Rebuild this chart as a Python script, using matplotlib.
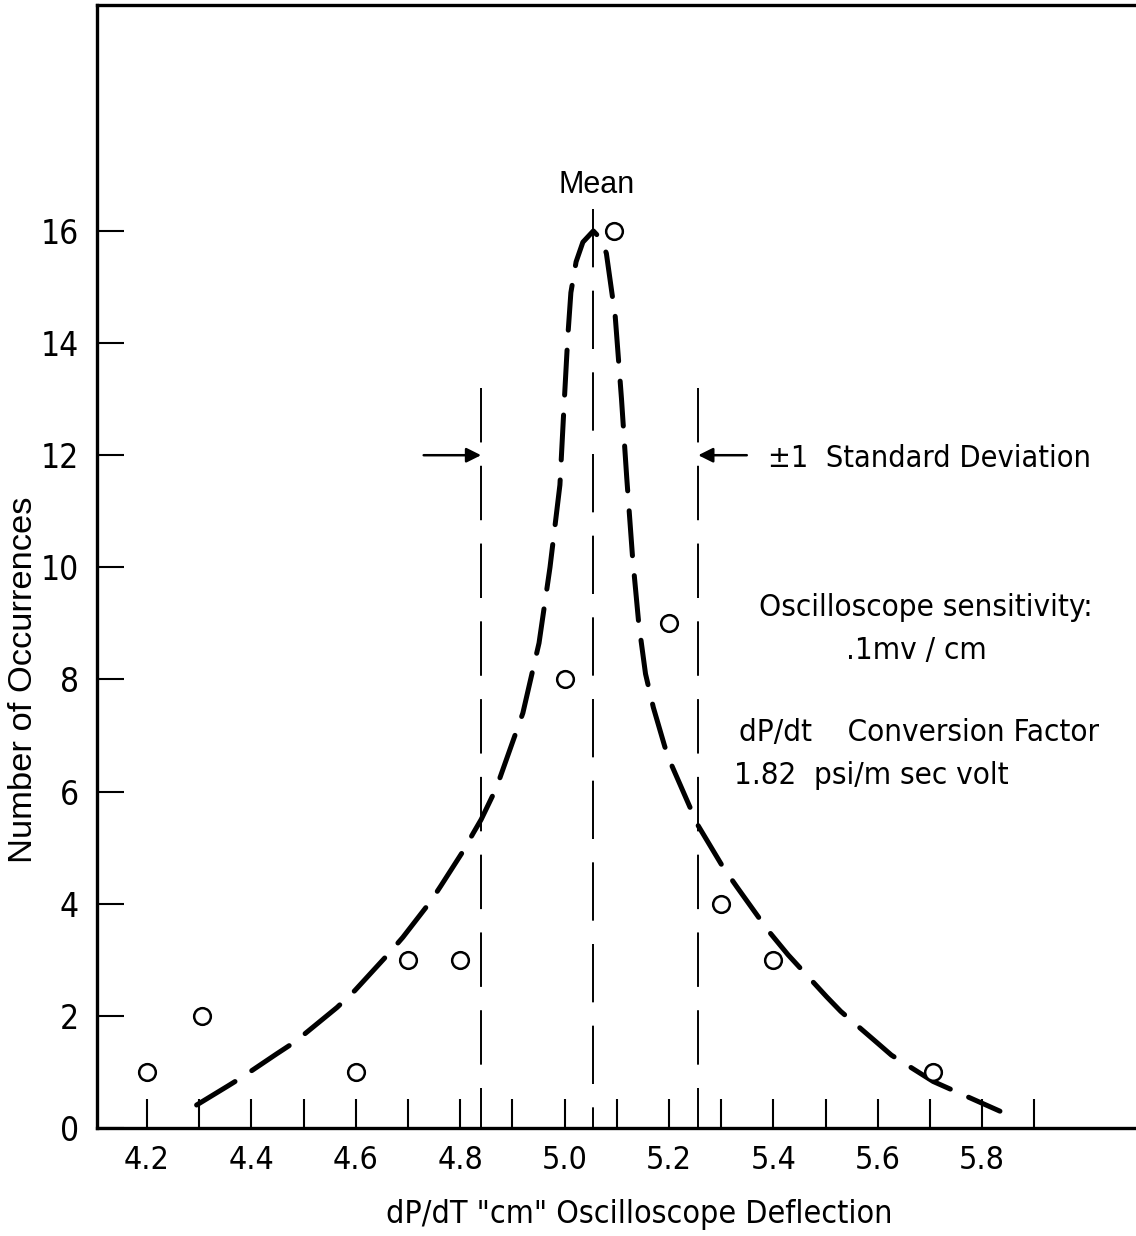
import matplotlib.pyplot as plt
from matplotlib.ticker import FixedLocator

# circles
pt_x = [4.20, 4.305, 4.60, 4.70, 4.80, 5.00, 5.095, 5.20, 5.30, 5.40, 5.705]
pt_y = [1, 2, 1, 3, 3, 8, 16, 9, 4, 3, 1]

# hand drawn fitted curve, traced point by point
curve_x = [4.295, 4.355, 4.381, 4.448, 4.484, 4.564, 4.598, 4.662, 4.690, 4.744,
           4.763, 4.805, 4.825, 4.840, 4.869, 4.920, 4.951, 4.972, 4.991, 4.999,
           5.006, 5.012, 5.022, 5.035, 5.055, 5.070, 5.080, 5.097, 5.109, 5.119,
           5.130, 5.142, 5.155, 5.170, 5.192, 5.206, 5.244, 5.256, 5.303, 5.330,
           5.390, 5.428, 5.502, 5.529, 5.600, 5.626, 5.706, 5.834]
curve_y = [0.41, 0.75, 0.90, 1.32, 1.54, 2.15, 2.45, 3.10, 3.40, 4.05,
           4.32, 4.93, 5.26, 5.50, 6.06, 7.40, 8.65, 10.0, 11.47, 12.9,
           14.1, 14.9, 15.45, 15.8, 16.0, 15.85, 15.6, 14.47, 13.0, 11.6,
           10.2, 9.0, 8.1, 7.5, 6.8, 6.45, 5.64, 5.39, 4.66, 4.30,
           3.52, 3.09, 2.34, 2.08, 1.51, 1.30, 0.83, 0.30]

mean_x = 5.055
sd_lo, sd_hi = 4.84, 5.256
sd_top = 13.2
mean_top = 16.4

x_ticks = [4.2, 4.3, 4.4, 4.5, 4.6, 4.7, 4.8, 4.9, 5.0, 5.1, 5.2, 5.3, 5.4, 5.5, 5.6, 5.7, 5.8, 5.9]
x_labels = ["4.2", "", "4.4", "", "4.6", "", "4.8", "", "5.0", "", "5.2", "", "5.4", "", "5.6", "", "5.8", ""]
y_ticks = [0, 2, 4, 6, 8, 10, 12, 14, 16]

narrow = dict(family='DejaVu Sans', stretch='condensed')
W, H = 1136, 1236

fig = plt.figure(figsize=(W / 100, H / 100), dpi=100)
ax = fig.add_axes([97 / W, 108 / H, (W - 97) / W, (1128 - 5) / H])
ax.set_xlim(4.1042, 6.0946)
ax.set_ylim(0, 20.03)

for s in ['left', 'bottom', 'top']:
    ax.spines[s].set_linewidth(2.4)
ax.spines['right'].set_visible(False)

ax.xaxis.set_major_locator(FixedLocator(x_ticks))
ax.set_xticklabels(x_labels)
ax.set_yticks(y_ticks)
ax.tick_params(axis='x', direction='in', length=21, width=1.5, pad=12, labelsize=23, top=False)
ax.tick_params(axis='y', direction='in', length=19.5, width=1.5, pad=13, labelsize=24, right=False)
for lab in ax.get_xticklabels() + ax.get_yticklabels():
    lab.set_family('DejaVu Sans')
    lab.set_stretch('condensed')

# mean and +-1 sd lines
ax.plot([mean_x, mean_x], [mean_top, 0], color='black', lw=1.4, dashes=(30, 12))
ax.plot([sd_lo, sd_lo], [sd_top, 0], color='black', lw=1.4, dashes=(28, 12))
ax.plot([sd_hi, sd_hi], [sd_top, 0], color='black', lw=1.4, dashes=(28, 12))

# fitted curve
ax.plot(curve_x, curve_y, color='black', lw=3.6, dashes=(9, 4), dash_capstyle='round')

# data points
ax.plot(pt_x, pt_y, 'o', ms=12, mfc='white', mec='black', mew=1.8, zorder=5)

# arrows for the sd band
ax.annotate('', xy=(sd_lo, 12), xytext=(4.73, 12),
            arrowprops=dict(arrowstyle='-|>', color='black', lw=1.8, mutation_scale=22, shrinkA=0, shrinkB=0))
ax.annotate('', xy=(sd_hi, 12), xytext=(5.349, 12),
            arrowprops=dict(arrowstyle='-|>', color='black', lw=1.8, mutation_scale=22, shrinkA=0, shrinkB=0))

def ftext(x, y, s, **kw):
    fig.text(x / W, 1 - y / H, s, **kw)

ftext(597, 185, 'Mean', ha='center', va='center', fontsize=22, family=['Liberation Sans', 'DejaVu Sans'])
ftext(768, 459, '\u00b11  Standard Deviation', ha='left', va='center', fontsize=22, **narrow)
ftext(759, 607, 'Oscilloscope sensitivity:', ha='left', va='center', fontsize=22.5, **narrow)
ftext(846, 650, '.1mv / cm', ha='left', va='center', fontsize=22.5, **narrow)
ftext(739, 733, 'dP/dt    Conversion Factor', ha='left', va='center', fontsize=22.5, **narrow)
ftext(734, 775, '1.82  psi/m sec volt', ha='left', va='center', fontsize=22.5, **narrow)

ftext(639, 1215, 'dP/dT "cm" Oscilloscope Deflection', ha='center', va='center', fontsize=23, **narrow)
ftext(24, 680, 'Number of Occurrences', ha='center', va='center', rotation=90, fontsize=24.8,
      family=['Liberation Sans', 'DejaVu Sans'])

fig.savefig('out.png', dpi=100)
